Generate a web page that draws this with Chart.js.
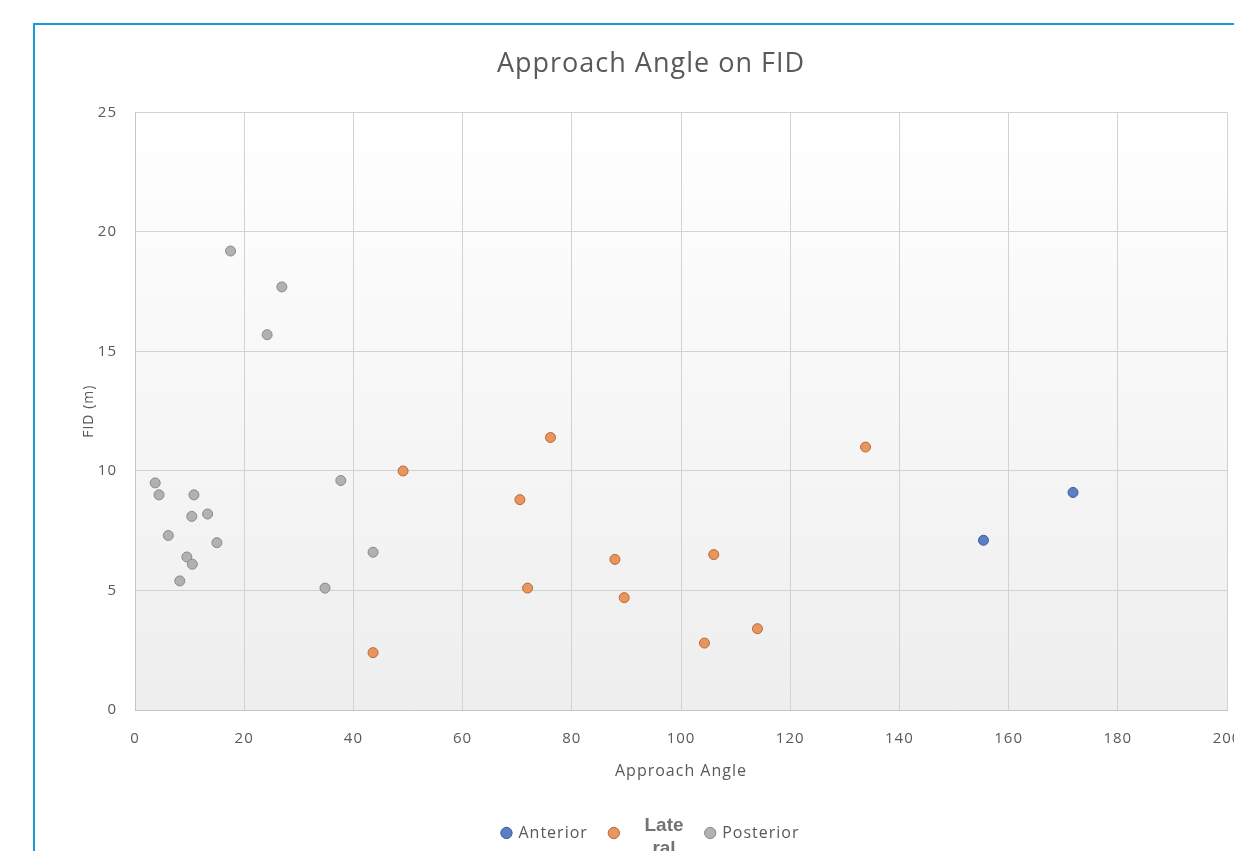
<!DOCTYPE html>
<html lang="en">
<head>
    <meta charset="UTF-8">
    <title>Approach Angle on FID</title>
    <script src="https://cdn.jsdelivr.net/npm/chart.js"></script>
    <style>
        html, body {
            margin: 0;
            padding: 0;
            background: #fff;
            overflow: hidden;
            width: 1234px;
            height: 851px;
        }
        #marco {
            position: absolute;
            left: 33px;
            top: 23px;
            border-left: 2px solid #1a9bd7;
            border-top: 2px solid #1a9bd7;
        }
        #nota {
            position: absolute;
            left: 626px;
            top: 813px;
            width: 76px;
            height: 40px;
            background: #fff;
            color: #737373;
            font-family: "Liberation Sans", Arial, sans-serif;
            font-weight: bold;
            font-size: 19px;
            line-height: 23px;
            text-align: center;
        }
    </style>
</head>
<body>
    <div id="marco">
        <canvas id="grafica" width="1232" height="826"></canvas>
    </div>
    <div id="nota">Late<br>ral</div>
    <script>
        // datos
        const anteriorX = [155.4, 171.8];
        const anteriorY = [7.1, 9.1];

        const lateralX = [49.1, 43.6, 76.1, 70.5, 87.9, 89.6, 71.9, 106.0, 104.3, 114.0, 133.8];
        const lateralY = [10.0, 2.4, 11.4, 8.8, 6.3, 4.7, 5.1, 6.5, 2.8, 3.4, 11.0];

        const posteriorX = [17.5, 26.9, 24.2, 3.7, 4.4, 10.8, 10.4, 13.3, 6.1, 15.0, 9.5, 10.5, 8.2, 37.7, 43.6, 34.8];
        const posteriorY = [19.2, 17.7, 15.7, 9.5, 9.0, 9.0, 8.1, 8.2, 7.3, 7.0, 6.4, 6.1, 5.4, 9.6, 6.6, 5.1];

        const xTicks = [0, 20, 40, 60, 80, 100, 120, 140, 160, 180, 200];
        const yTicks = [0, 5, 10, 15, 20, 25];

        const puntos = (xs, ys) => xs.map((x, i) => ({ x: x, y: ys[i] }));

        const gris = '#595959';
        const fuente = '"Open Sans", sans-serif';

        // texto un poco mas espaciado, como en el original
        const espaciado = {
            id: 'espaciado',
            beforeLayout(chart) { chart.ctx.letterSpacing = '1px'; },
            beforeDraw(chart) { chart.ctx.letterSpacing = '1px'; }
        };

        // fondo degradado del area del grafico
        const fondo = {
            id: 'fondo',
            beforeDraw(chart) {
                const { ctx, chartArea: a } = chart;
                const g = ctx.createLinearGradient(0, a.top, 0, a.bottom);
                g.addColorStop(0, '#ffffff');
                g.addColorStop(1, '#eeeeee');
                ctx.save();
                ctx.fillStyle = g;
                ctx.fillRect(a.left, a.top, a.right - a.left, a.bottom - a.top);
                ctx.restore();
            }
        };

        const ctx = document.getElementById('grafica').getContext('2d');
        new Chart(ctx, {
            type: 'scatter',
            data: {
                datasets: [
                    {
                        label: 'Anterior',
                        data: puntos(anteriorX, anteriorY),
                        backgroundColor: '#5a7fc6',
                        borderColor: '#3b5b9a',
                        borderWidth: 1,
                        pointRadius: 5
                    },
                    {
                        label: 'Lateral',
                        data: puntos(lateralX, lateralY),
                        backgroundColor: '#e8955e',
                        borderColor: '#b86a3a',
                        borderWidth: 1,
                        pointRadius: 5
                    },
                    {
                        label: 'Posterior',
                        data: puntos(posteriorX, posteriorY),
                        backgroundColor: '#b1b1b1',
                        borderColor: '#8a8a8a',
                        borderWidth: 1,
                        pointRadius: 5
                    }
                ]
            },
            options: {
                responsive: false,
                animation: false,
                layout: {
                    padding: { left: 40, right: 40, top: 0, bottom: 0 }
                },
                plugins: {
                    title: {
                        display: true,
                        text: 'Approach Angle on FID',
                        color: gris,
                        font: { family: fuente, size: 27, weight: 'normal' },
                        padding: { top: 23, bottom: 32 }
                    },
                    legend: {
                        position: 'bottom',
                        labels: {
                            usePointStyle: true,
                            pointStyle: 'circle',
                            boxWidth: 8,
                            boxHeight: 8,
                            padding: 22,
                            color: gris,
                            font: { family: fuente, size: 16 }
                        }
                    },
                    tooltip: { enabled: false }
                },
                scales: {
                    x: {
                        type: 'linear',
                        min: 0,
                        max: 200,
                        afterBuildTicks: (s) => { s.ticks = xTicks.map(v => ({ value: v })); },
                        afterFit: (s) => { s.height = 93; },
                        grid: { color: '#d2d2d2', drawTicks: false },
                        border: { color: '#c4c4c4' },
                        ticks: {
                            color: gris,
                            padding: 20,
                            maxRotation: 0,
                            font: { family: fuente, size: 15 }
                        },
                        title: {
                            display: true,
                            text: 'Approach Angle',
                            color: gris,
                            font: { family: fuente, size: 16 },
                            padding: { top: 0, bottom: 22 }
                        }
                    },
                    y: {
                        type: 'linear',
                        min: 0,
                        max: 25,
                        afterBuildTicks: (s) => { s.ticks = yTicks.map(v => ({ value: v })); },
                        afterFit: (s) => { s.width = 60; },
                        grid: { color: '#d2d2d2', drawTicks: false },
                        border: { color: '#c4c4c4' },
                        ticks: {
                            color: gris,
                            padding: 18,
                            font: { family: fuente, size: 15 }
                        },
                        title: {
                            display: true,
                            text: 'FID (m)',
                            color: gris,
                            font: { family: fuente, size: 14 },
                            padding: { top: 6, bottom: 0 }
                        }
                    }
                }
            },
            plugins: [espaciado, fondo]
        });
    </script>
</body>
</html>
